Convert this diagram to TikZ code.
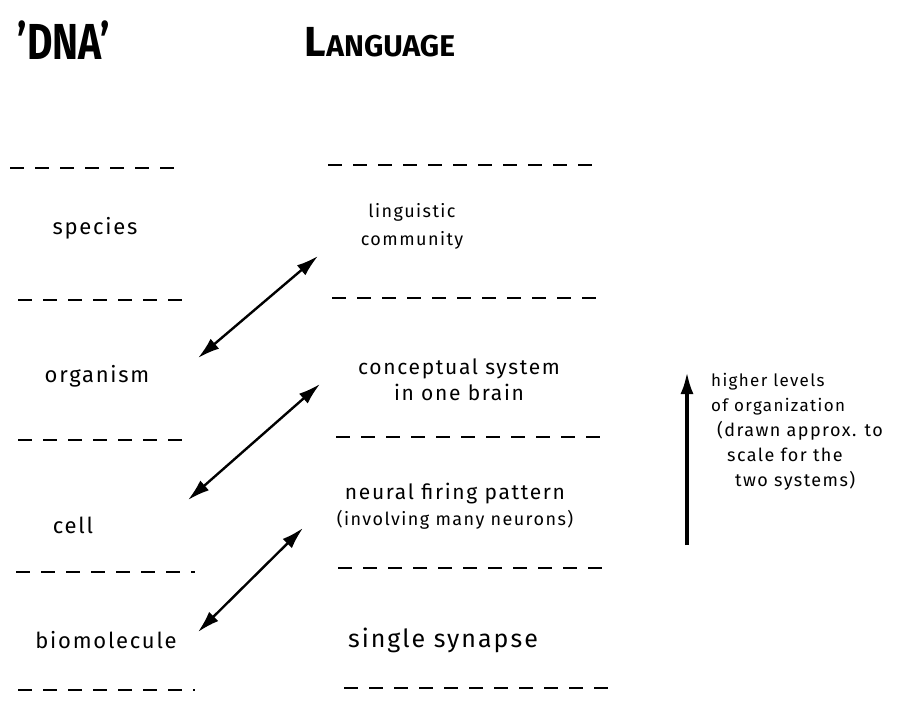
\documentclass[tikz,border=0pt]{standalone}
\usepackage{fontspec}
\setmainfont{Fira Sans}
\newfontfamily\hand[LetterSpace=8]{Fira Sans}
\usetikzlibrary{arrows.meta}
\begin{document}
\begin{tikzpicture}[x=1pt,y=-1pt,
  level/.style={font=\hand\fontsize{22}{24}\selectfont, inner sep=0pt},
  lang/.style={font=\hand\fontsize{21}{26}\selectfont, inner sep=0pt, align=center},
  note/.style={font=\hand\fontsize{17}{25}\selectfont, inner sep=0pt, align=left},
  sep/.style={line width=1.8pt, dash pattern=on 14pt off 11pt},
  link/.style={line width=2.4pt, {Latex[length=22pt,width=13pt]}-{Latex[length=22pt,width=13pt]}},
  rise/.style={line width=3.5pt, -{Latex[length=22pt,width=13pt]}}]
\useasboundingbox (0,0) rectangle (909,702);

% headings
\node[inner sep=0pt, font=\bfseries\fontsize{46}{46}\selectfont] (dna) at (64,40) {\scalebox{0.85}[1.1]{'DNA'}};
\node[inner sep=0pt, font=\bfseries] (language) at (380,42)
  {{\fontsize{42}{42}\selectfont L}{\fontsize{30}{30}\selectfont ANGUAGE}};

% level separators, DNA column
\draw[sep] (10,168) -- (185,168);
\draw[sep] (18,300) -- (192,300);
\draw[sep] (18,440) -- (192,440);
\draw[sep] (16,572) -- (195,572);
\draw[sep] (18,690) -- (195,690);

% level separators, language column
\draw[sep] (328,165) -- (598,165);
\draw[sep] (332,298) -- (602,298);
\draw[sep] (336,437) -- (602,437);
\draw[sep] (338,568) -- (608,568);
\draw[sep] (344,688) -- (612,688);

% DNA levels
\node[level] (species) at (95,228) {species};
\node[level] (organism) at (97,376) {organism};
\node[level] (cell) at (73,525) {cell};
\node[level] (biomolecule) at (106,640) {biomolecule};

% language levels
\node[lang, font=\hand\fontsize{18}{28}\selectfont] (community) at (412,226) {linguistic\\community};
\node[lang] (concept) at (459,380) {conceptual system\\in one brain};
\node[lang] (firing) at (455,506)
  {neural firing pattern\\{\fontsize{18}{20}\selectfont(involving many neurons)}};
\node[level, font=\hand\fontsize{25}{26}\selectfont] (synapse) at (443,640) {single synapse};

% arrow end points
\coordinate (a1) at (198,358);
\coordinate (b1) at (318,256);
\coordinate (a2) at (188,500);
\coordinate (b2) at (320,384);
\coordinate (a3) at (198,632);
\coordinate (b3) at (303,528);
\draw[link] (a1) -- (b1);
\draw[link] (a2) -- (b2);
\draw[link] (a3) -- (b3);

% direction of organization
\coordinate (low) at (687,545);
\coordinate (high) at (687,372);
\draw[rise] (low) -- (high);
\node[note, anchor=north west] (levels) at (711,373)
  {higher levels\\of organization\\
   {\fontsize{18}{25}\selectfont\hspace*{6pt}(drawn approx. to}\\
   {\fontsize{18}{25}\selectfont\hspace*{16pt}scale for the}\\
   {\fontsize{18}{25}\selectfont\hspace*{24pt}two systems)}};
\end{tikzpicture}
\end{document}
